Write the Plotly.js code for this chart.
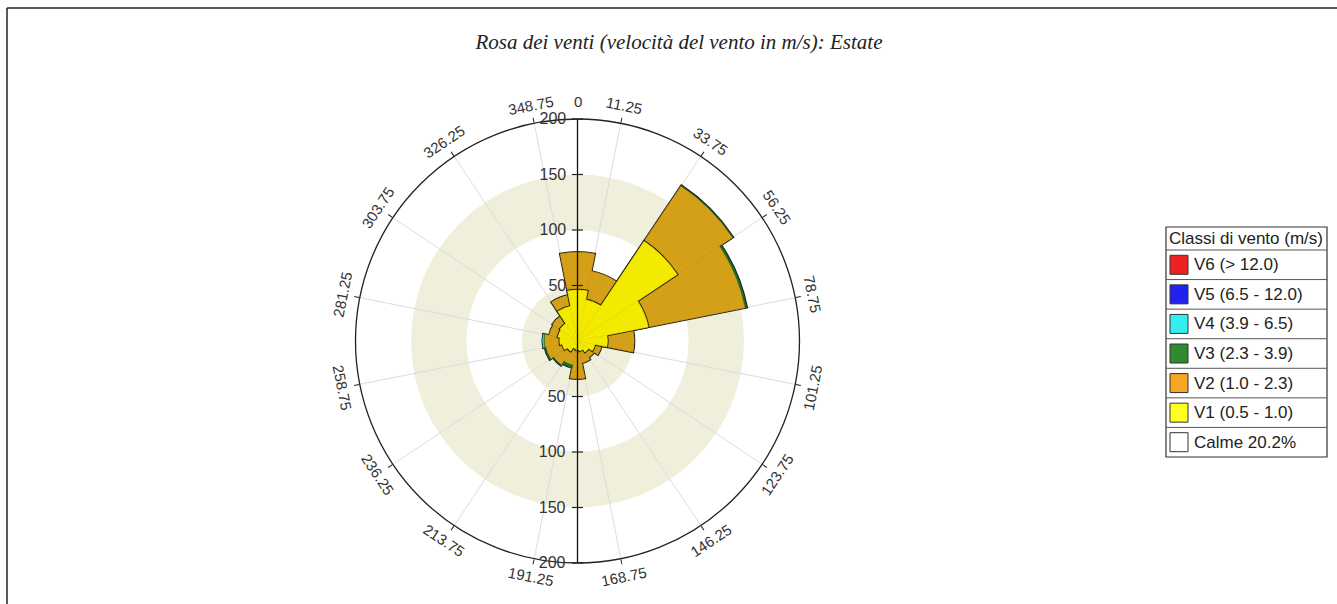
<!DOCTYPE html>
<html><head><meta charset="utf-8">
<script src="https://cdn.plot.ly/plotly-3.0.1.min.js"></script>
<style>html,body{margin:0;padding:0;background:#fff;overflow:hidden}#chart{width:1337px;height:604px}</style>
</head><body><div id="chart"></div>
<script>
// ---- data ----
const directions = [0, 22.5, 45, 67.5, 90, 112.5, 135, 157.5, 180, 202.5, 225, 247.5, 270, 292.5, 315, 337.5];
const v1 = [46, 38, 108, 65, 27, 16, 12, 9, 8, 7, 11, 14, 16, 18, 19, 32];
const v2 = [34, 26, 60, 89, 24, 6, 6, 11, 26, 15, 15, 15, 14, 8, 8, 10];
const v3 = [0, 0, 0.4, 1.5, 0, 0, 0, 0, 0, 2.5, 0.5, 1, 0.8, 0, 0, 0];
const v4 = [0, 0, 0, 0, 0, 0, 0, 0, 0, 0, 0, 0, 0.6, 0, 0, 0];
const v5 = [0, 0, 0, 0, 0, 0, 0, 0, 0, 0, 0, 0, 0, 0, 0, 0];
const v6 = [0, 0, 0, 0, 0, 0, 0, 0, 0, 0, 0, 0, 0, 0, 0, 0];
const classNames = ['V1 (0.5 - 1.0)', 'V2 (1.0 - 2.3)', 'V3 (2.3 - 3.9)', 'V4 (3.9 - 6.5)', 'V5 (6.5 - 12.0)', 'V6 (> 12.0)'];
const angularTickVals = [0, 11.25, 33.75, 56.25, 78.75, 101.25, 123.75, 146.25, 168.75, 191.25, 213.75, 236.25, 258.75, 281.25, 303.75, 326.25, 348.75];
const angularTickText = ['0', '11.25', '33.75', '56.25', '78.75', '101.25', '123.75', '146.25', '168.75', '191.25', '213.75', '236.25', '258.75', '281.25', '303.75', '326.25', '348.75'];
const radialTickVals = [50, 100, 150, 200];
const radialRange = [0, 200];
const bandBases = [0, 100];
const bandSize = 50;
const legendTitle = 'Classi di vento (m/s)';
const legendLabels = ['V6 (> 12.0)', 'V5 (6.5 - 12.0)', 'V4 (3.9 - 6.5)', 'V3 (2.3 - 3.9)', 'V2 (1.0 - 2.3)', 'V1 (0.5 - 1.0)', 'Calme 20.2%'];
const titleText = 'Rosa dei venti (velocità del vento in m/s): Estate';

// ---- styles ----
const fillColors = ['#f3ea00', '#d4a017', '#1e6b2a', '#33dddd', '#2222dd', '#dd2222'];
const legendColors = ['#ee2222', '#2222ee', '#33eeee', '#2e8b2e', '#f5a623', '#ffff22', '#ffffff'];
const W = 1337, H = 604;
const cx = 577.5, cy = 341, R = 222;
const px = x => x / W, py = y => 1 - y / H;
const FONT = 'Liberation Sans, Arial, sans-serif';

const classes = [v1, v2, v3, v4, v5, v6];
const bases = [];
let acc = directions.map(() => 0);
classes.forEach(c => { bases.push(acc.slice()); acc = acc.map((a, i) => a + c[i]); });
const total = acc;
const sectorWidth = 360 / directions.length;

const traces = [];
// background bands (polar)
const bandTheta = [45, 135, 225, 315];
bandBases.forEach(b => {
  traces.push({type: 'barpolar', subplot: 'polar', theta: bandTheta, r: bandTheta.map(() => bandSize),
    base: bandTheta.map(() => b), width: 90, marker: {color: '#f0efdc', line: {width: 0}},
    hoverinfo: 'skip', showlegend: false});
});
// outer outline of all classes
traces.push({type: 'barpolar', subplot: 'polar2', theta: directions, r: total, base: directions.map(() => 0),
  width: sectorWidth, marker: {color: fillColors[1], line: {color: '#1a1a1a', width: 2.4}}, showlegend: false, hoverinfo: 'skip'});
// fills of V2..V6
for (let k = 1; k < 6; k++) {
  traces.push({type: 'barpolar', subplot: 'polar2', name: classNames[k], theta: directions, r: classes[k], base: bases[k],
    width: sectorWidth, marker: {color: fillColors[k], line: {color: fillColors[k], width: 0.6}}, showlegend: false});
}
// V1 outline and fill
traces.push({type: 'barpolar', subplot: 'polar2', theta: directions, r: v1, base: directions.map(() => 0),
  width: sectorWidth, marker: {color: fillColors[0], line: {color: '#1a1a1a', width: 2.4}}, showlegend: false, hoverinfo: 'skip'});
traces.push({type: 'barpolar', subplot: 'polar2', name: classNames[0], theta: directions, r: v1, base: directions.map(() => 0),
  width: sectorWidth, marker: {color: fillColors[0], line: {color: fillColors[0], width: 0.6}}, showlegend: false});
['polar3', 'polar4', 'polar5'].forEach(s => traces.push({type: 'scatterpolar', subplot: s, r: [], theta: [], showlegend: false}));

const dom = {x: [px(cx - R), px(cx + R)], y: [py(cy + R), py(cy - R)]};
const hiddenAng = {rotation: 90, direction: 'clockwise', showline: false, showgrid: false, showticklabels: false, ticks: ''};
const tickFont = {family: FONT, size: 16, color: '#333'};
const radBase = {range: radialRange, tickmode: 'array', tickvals: radialTickVals, showgrid: false, ticklen: 5, tickcolor: '#222', tickwidth: 1.2};

const layout = {
  width: W, height: H, margin: {l: 0, r: 0, t: 0, b: 0}, paper_bgcolor: '#fff', showlegend: false,
  title: {text: '<i>' + titleText + '</i>', x: px(679), xanchor: 'center', y: py(42), yanchor: 'middle', yref: 'container',
    font: {family: 'Liberation Serif, Times New Roman, serif', size: 21, color: '#222'}},
  polar: {domain: dom, bgcolor: '#fff', barmode: 'overlay', angularaxis: hiddenAng,
    radialaxis: Object.assign({}, radBase, {visible: false})},
  polar2: {domain: dom, bgcolor: 'rgba(0,0,0,0)', barmode: 'overlay',
    angularaxis: {rotation: 90, direction: 'clockwise', tickmode: 'array', tickvals: angularTickVals.slice(1),
      showticklabels: false, ticks: 'outside', ticklen: 5, tickcolor: '#222', showline: true, linecolor: '#222', linewidth: 1.3,
      showgrid: true, gridcolor: '#dcdcdc', gridwidth: 1},
    radialaxis: Object.assign({}, radBase, {angle: 90, side: 'counterclockwise', ticks: 'outside', showline: true,
      linecolor: '#111', linewidth: 1.3, tickangle: 90, tickfont: tickFont})},
  polar3: {domain: dom, bgcolor: 'rgba(0,0,0,0)', angularaxis: hiddenAng,
    radialaxis: Object.assign({}, radBase, {angle: 270, side: 'clockwise', ticks: 'outside', showline: true,
      linecolor: '#111', linewidth: 1.3, tickangle: 270, tickfont: tickFont})},
  polar4: {domain: dom, bgcolor: 'rgba(0,0,0,0)', angularaxis: hiddenAng,
    radialaxis: Object.assign({}, radBase, {angle: 90, side: 'clockwise', ticks: 'outside', showline: false, showticklabels: false})},
  polar5: {domain: dom, bgcolor: 'rgba(0,0,0,0)', angularaxis: hiddenAng,
    radialaxis: Object.assign({}, radBase, {angle: 270, side: 'counterclockwise', ticks: 'outside', showline: false, showticklabels: false})},
  shapes: [], annotations: []
};

// angular tick labels, written along the circle
const labelR = R + 18;
angularTickVals.forEach((a, i) => {
  const t = a * Math.PI / 180;
  let rot = (a > 90 && a < 270) ? a - 180 : a;
  if (rot > 180) rot -= 360;
  layout.annotations.push({xref: 'paper', yref: 'paper', x: px(cx + labelR * Math.sin(t)), y: py(cy - labelR * Math.cos(t)),
    text: angularTickText[i], showarrow: false, textangle: rot, xanchor: 'center', yanchor: 'middle',
    font: {family: FONT, size: 15, color: '#333'}});
});

// page frame
layout.shapes.push({type: 'line', xref: 'paper', yref: 'paper', x0: px(7), x1: px(7), y0: py(8), y1: 0, line: {color: '#222', width: 1.5}});
layout.shapes.push({type: 'line', xref: 'paper', yref: 'paper', x0: px(7), x1: 1, y0: py(8), y1: py(8), line: {color: '#222', width: 1.5}});

// legend box
const lgL = 1166, lgR = 1327, lgT = 227, lgTitleB = 250, lgB = 457;
const rowH = (lgB - lgTitleB) / legendLabels.length;
layout.shapes.push({type: 'rect', xref: 'paper', yref: 'paper', x0: px(lgL), x1: px(lgR), y0: py(lgB), y1: py(lgT), line: {color: '#333', width: 1.2}, fillcolor: '#fff'});
layout.annotations.push({xref: 'paper', yref: 'paper', x: px(lgL + 1), y: py((lgT + lgTitleB) / 2), xanchor: 'left', yanchor: 'middle',
  text: legendTitle, showarrow: false, font: {family: FONT, size: 17, color: '#222'}});
legendLabels.forEach((lab, i) => {
  const top = lgTitleB + i * rowH;
  layout.shapes.push({type: 'line', xref: 'paper', yref: 'paper', x0: px(lgL), x1: px(lgR), y0: py(top), y1: py(top), line: {color: '#555', width: 1}});
  layout.shapes.push({type: 'rect', xref: 'paper', yref: 'paper', x0: px(1170), x1: px(1188), y0: py(top + rowH / 2 + 9.5), y1: py(top + rowH / 2 - 9.5),
    line: {color: '#333', width: 1}, fillcolor: legendColors[i]});
  layout.annotations.push({xref: 'paper', yref: 'paper', x: px(1192), y: py(top + rowH / 2), xanchor: 'left', yanchor: 'middle',
    text: lab, showarrow: false, font: {family: FONT, size: 17, color: '#222'}});
});

Plotly.newPlot('chart', traces, layout, {staticPlot: true, displayModeBar: false});
</script></body></html>
